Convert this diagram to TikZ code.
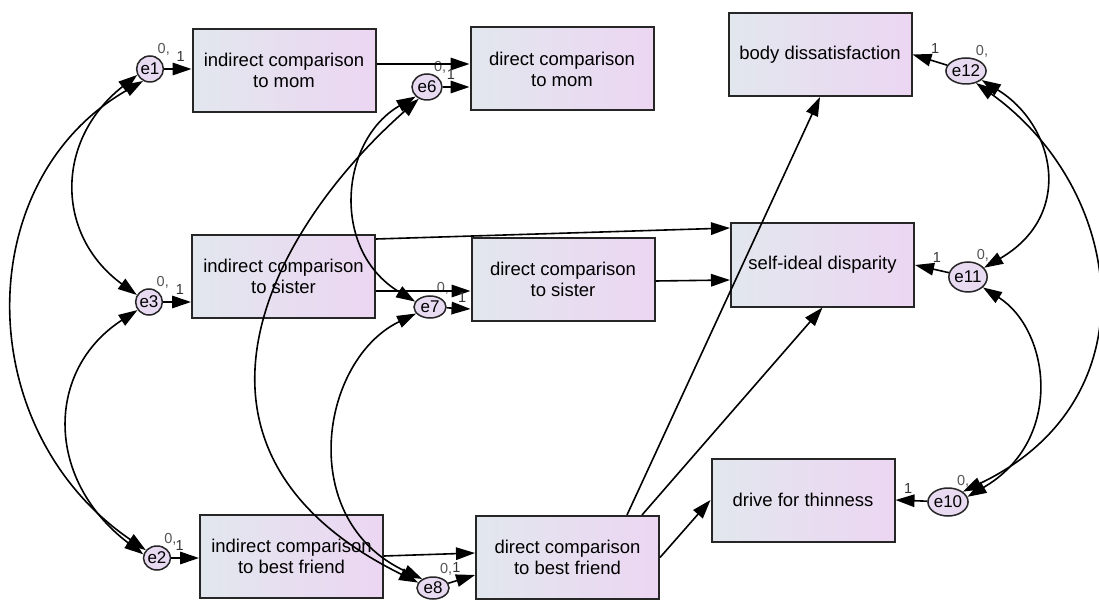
\documentclass[tikz,border=0pt]{standalone}
\usepackage{fontspec}
\setmainfont{Liberation Sans}
\usetikzlibrary{arrows.meta,shapes.geometric}
\definecolor{boxleft}{HTML}{E2E7EE}
\definecolor{boxright}{HTML}{ECD6F2}
\definecolor{errfill}{HTML}{E8DAF1}
\definecolor{zerogray}{HTML}{555555}

\begin{document}
\begin{tikzpicture}[x=1pt,y=-1pt,
    >={Triangle[length=19pt,width=12.5pt]},
    obs/.style={draw=black!85,line width=2pt,left color=boxleft,right color=boxright,
      minimum width=183pt,minimum height=83pt,align=center,
      font=\fontsize{18.5}{21}\selectfont},
    err/.style={ellipse,draw=black!85,line width=1.5pt,fill=errfill,inner sep=0pt,
      label distance=3pt,font=\fontsize{17}{17}\selectfont},
    regr/.style={->,line width=1.6pt},
    cov/.style={<->,line width=1.6pt},
    onelbl/.style={font=\fontsize{14.5}{14.5}\selectfont,text=black!80,inner sep=1pt},
    zerolbl/.style={font=\fontsize{14.5}{14.5}\selectfont,text=zerogray,inner sep=1pt}]
  \fill[white] (0,0) rectangle (1099,601);
  \useasboundingbox (0,0) rectangle (1099,601);

  % observed variables
  \node[obs] (icmom) at (284,70.5) {indirect comparison\\to mom};
  \node[obs] (dcmom) at (562,69) {direct comparison\\to mom};
  \node[obs] (bd) at (820,54.5) {body dissatisfaction};
  \node[obs] (icsis) at (283.5,276.5) {indirect comparison\\to sister};
  \node[obs] (dcsis) at (563,279.5) {direct comparison\\to sister};
  \node[obs] (sid) at (822.5,265) {self-ideal disparity};
  \node[obs] (icbf) at (291.5,556.5) {indirect comparison\\to best friend};
  \node[obs] (dcbf) at (567.5,557.5) {direct comparison\\to best friend};
  \node[obs] (dft) at (803,500) {drive for thinness};

  % error terms
  \node[err,minimum width=25pt,minimum height=26pt,label={[name=z1,zerolbl]62:0,}] (e1) at (150,69) {e1};
  \node[err,minimum width=25pt,minimum height=26pt,label={[name=z3,zerolbl]62:0,}] (e3) at (149,302) {e3};
  \node[err,minimum width=27pt,minimum height=24pt,label={[name=z2,zerolbl]62:0,}] (e2) at (157,558) {e2};
  \node[err,minimum width=30pt,minimum height=26pt,label={[name=z6,zerolbl]65:0,}] (e6) at (427,87) {e6};
  \node[err,minimum width=32pt,minimum height=22pt,label={[name=z7,zerolbl]63:0,}] (e7) at (430,307) {e7};
  \node[err,minimum width=32pt,minimum height=22pt,label={[name=z8,zerolbl]62:0,}] (e8) at (433,588) {e8};
  \node[err,minimum width=38pt,minimum height=26pt,label={[name=z12,zerolbl]55:0,}] (e12) at (966,71) {e12};
  \node[err,minimum width=33pt,minimum height=30pt,label={[name=z11,zerolbl]62:0,}] (e11) at (968,277) {e11};
  \node[err,minimum width=36pt,minimum height=28pt,label={[name=z10,zerolbl]60:0,}] (e10) at (948,502) {e10};

  % regression paths
  \draw[regr] (e1) -- node[onelbl,above=6pt,pos=0.6] (w1) {1} (icmom.west |- e1);
  \draw[regr] (e3) -- node[onelbl,above=6pt,pos=0.6] (w3) {1} (icsis.west |- e3);
  \draw[regr] (e2) -- node[onelbl,above=6pt,pos=0.3] (w2) {1} (icbf.west |- e2);
  \draw[regr] (icmom.east |- 0,64) -- (dcmom.west |- 0,64);
  \draw[regr] (e6) -- node[onelbl,above=6pt,pos=0.3] (w6) {1} (dcmom.west |- e6);
  \draw[regr] (icsis.east |- 0,291) -- (dcsis.west |- 0,291);
  \draw[regr] (e7) -- node[onelbl,above=4pt,pos=0.65] (w7) {1} (dcsis.west |- 0,309);
  \draw[regr] (icsis.east |- 0,239) -- (sid.west |- 0,228);
  \draw[regr] (dcsis.east |- 0,281) -- (sid.west |- 0,280);
  \draw[regr] (icbf.east |- 0,556) -- (dcbf.west |- 0,553);
  \draw[regr] (e8) -- node[onelbl,above=6pt,pos=0.3] (w8) {1} (dcbf.west |- 0,575);
  \draw[regr] (dcbf.north -| 627,0) -- (bd.south);
  \draw[regr] (dcbf.north -| 642,0) -- (sid.south);
  \draw[regr] (dcbf.east) -- (dft.west);
  \draw[regr] (e12) -- node[onelbl,above=6pt,pos=0.35] (w12) {1} (bd.east);
  \draw[regr] (e11) -- node[onelbl,above=6pt,pos=0.35] (w11) {1} (sid.east);
  \draw[regr] (e10) -- node[onelbl,above=5pt,pos=0.6] (w10) {1} (dft.east);

  % covariances
  \draw[cov] (e1.205) .. controls (55,140) and (55,235) .. (e3.150);
  \draw[cov] (e1.240) .. controls (-30,180) and (-30,430) .. (e2.145);
  \draw[cov] (e3.215) .. controls (45,370) and (45,480) .. (e2.165);
  \draw[cov] (e6.220) .. controls (340,140) and (330,250) .. (e7.160);
  \draw[cov] (e6.235) .. controls (270,230) and (150,450) .. (e8.160);
  \draw[cov] (e7.205) .. controls (320,360) and (295,520) .. (e8.140);
  \draw[cov] (e12.-30) .. controls (1055,125) and (1075,215) .. (e11.30);
  \draw[cov] (e12.-50) .. controls (1125,190) and (1155,400) .. (e10.35);
  \draw[cov] (e11.-35) .. controls (1050,330) and (1065,440) .. (e10.15);
\end{tikzpicture}
\end{document}
